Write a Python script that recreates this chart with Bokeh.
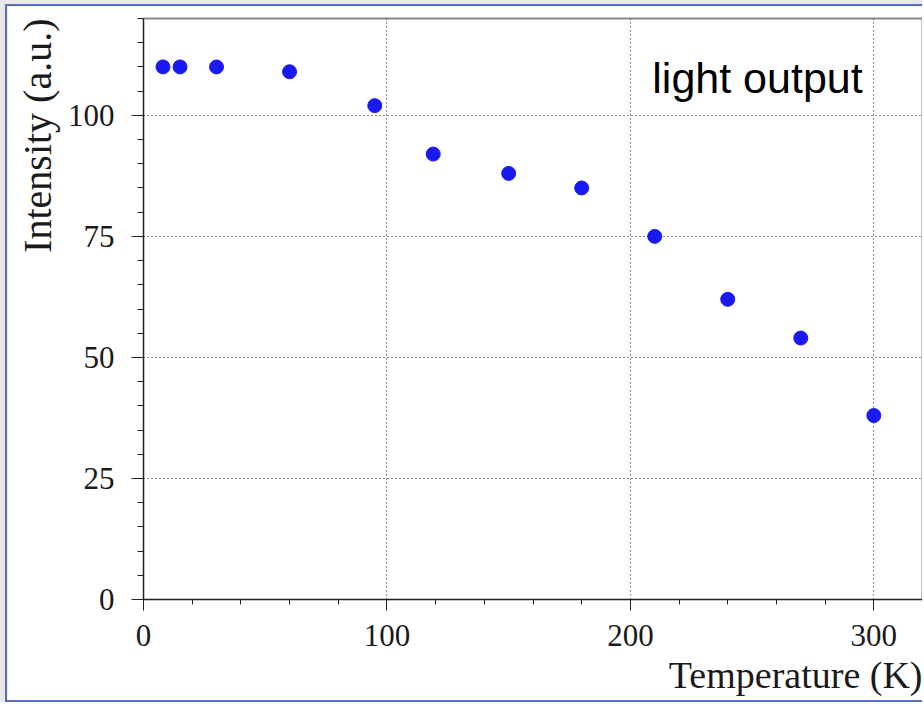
from bokeh.plotting import figure
from bokeh.models import Range1d, SingleIntervalTicker, Label, ColumnDataSource, Title
from bokeh.layouts import column
from bokeh.embed import file_html
from bokeh.resources import INLINE

# data
temperature = [8, 15, 30, 60, 95, 119, 150, 180, 210, 240, 270, 300]
intensity = [110, 110, 110, 109, 102, 92, 88, 85, 75, 62, 54, 38]
x_title = "Temperature (K)"
y_title = "Intensity (a.u.)"
annotation = "light output"

SERIF = "Liberation Serif"
SANS = "Liberation Sans"

p = figure(
    width=917, height=698,
    output_backend="svg", toolbar_location=None,
    x_range=Range1d(0, 320), y_range=Range1d(0, 120),
    min_border_left=136, min_border_top=12, min_border_right=2, min_border_bottom=105,
    background_fill_color="white", border_fill_color="white",
    outline_line_color="#8a8a8a", outline_line_width=2,
    styles={"margin-left": "5px", "margin-top": "4px",
            "border-left": "2px solid #5b6eb6", "border-top": "2px solid #5b6eb6",
            "border-bottom": "2px solid #5b6eb6"},
)

# axes
p.xaxis.ticker = SingleIntervalTicker(interval=100, num_minor_ticks=5)
p.yaxis.ticker = SingleIntervalTicker(interval=25, num_minor_ticks=5)
for ax in (p.xaxis[0], p.yaxis[0]):
    ax.axis_line_color = "#222222"
    ax.axis_line_width = 1
    ax.major_tick_line_color = "#222222"
    ax.minor_tick_line_color = "#222222"
    ax.major_tick_in = 0
    ax.minor_tick_in = 0
    ax.major_label_text_font = SERIF
    ax.major_label_text_font_size = "31px"
    ax.major_label_text_color = "#1a1a1a"
p.xaxis.major_tick_out = 11
p.xaxis.minor_tick_out = 5
p.yaxis.major_tick_out = 12
p.yaxis.minor_tick_out = 6
p.xaxis.major_label_standoff = 14
p.yaxis.major_label_standoff = 17

# grid
for g in (p.xgrid[0], p.ygrid[0]):
    g.grid_line_color = "#222222"
    g.grid_line_dash = "1 3"
    g.grid_line_width = 1

src = ColumnDataSource(dict(x=temperature, y=intensity))
p.scatter("x", "y", source=src, size=14, fill_color="#1a1af0", line_color="#1a1af0")

# axis titles, end aligned like the reference
p.add_layout(Title(text=x_title, align="right", text_font=SERIF, text_font_size="38px",
                   text_font_style="normal", text_color="#1a1a1a", standoff=7, offset=0), "below")
p.add_layout(Title(text=y_title, align="right", text_font=SERIF, text_font_size="40px",
                   text_font_style="normal", text_color="#1a1a1a", standoff=9, offset=0), "left")
p.add_layout(Label(x=209, y=107.7, text=annotation, text_align="left", text_baseline="alphabetic",
                   text_font=SANS, text_font_size="43px", text_color="black"))

root = column(p, styles={"background-color": "#e8e8e8"})
open("out.html", "w").write(file_html(root, INLINE))
